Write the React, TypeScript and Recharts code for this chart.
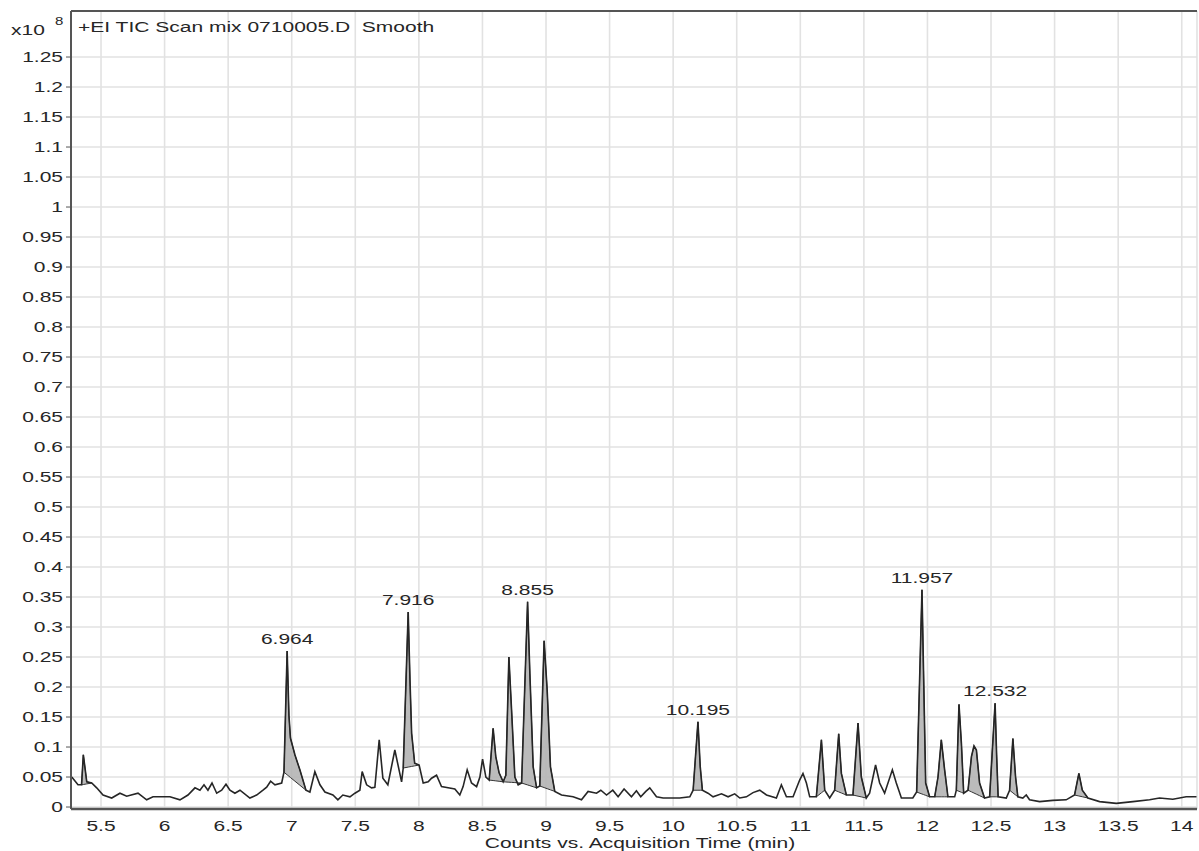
import React from 'react';
import {
  ComposedChart,
  Line,
  Area,
  XAxis,
  YAxis,
  CartesianGrid,
  ReferenceLine,
  ReferenceDot,
} from 'recharts';

// ---------- data ----------
const TIMES = [
  5.27, 5.319, 5.347, 5.361, 5.388, 5.427, 5.466, 5.516, 5.584, 5.649,
  5.702, 5.791, 5.859, 5.909, 6.042, 6.121, 6.184, 6.239, 6.278, 6.31,
  6.341, 6.373, 6.41, 6.449, 6.483, 6.514, 6.553, 6.593, 6.671, 6.724,
  6.774, 6.803, 6.834, 6.868, 6.921, 6.939, 6.964, 6.978, 6.99, 7.025,
  7.064, 7.112, 7.143, 7.182, 7.222, 7.261, 7.324, 7.363, 7.402, 7.458,
  7.497, 7.536, 7.554, 7.589, 7.628, 7.654, 7.688, 7.717, 7.756, 7.811,
  7.864, 7.877, 7.916, 7.93, 7.943, 7.967, 8.002, 8.034, 8.073, 8.1,
  8.139, 8.178, 8.23, 8.283, 8.322, 8.348, 8.38, 8.414, 8.454, 8.48,
  8.501, 8.527, 8.553, 8.584, 8.605, 8.631, 8.663, 8.684, 8.708, 8.729,
  8.755, 8.781, 8.808, 8.855, 8.873, 8.899, 8.926, 8.951, 8.985, 9.009,
  9.035, 9.069, 9.122, 9.213, 9.279, 9.331, 9.397, 9.431, 9.476, 9.525,
  9.567, 9.614, 9.672, 9.711, 9.745, 9.785, 9.816, 9.869, 9.921, 10.052,
  10.131, 10.157, 10.195, 10.213, 10.23, 10.274, 10.314, 10.38, 10.432, 10.484,
  10.524, 10.576, 10.628, 10.681, 10.734, 10.812, 10.851, 10.891, 10.943, 10.995,
  11.021, 11.048, 11.074, 11.126, 11.166, 11.192, 11.231, 11.27, 11.302, 11.323,
  11.362, 11.414, 11.454, 11.48, 11.519, 11.545, 11.592, 11.624, 11.663, 11.724,
  11.755, 11.795, 11.885, 11.915, 11.957, 11.969, 11.986, 12.017, 12.057, 12.083,
  12.109, 12.135, 12.161, 12.214, 12.227, 12.248, 12.267, 12.285, 12.319, 12.346,
  12.366, 12.385, 12.41, 12.449, 12.489, 12.532, 12.544, 12.556, 12.62, 12.646,
  12.672, 12.693, 12.711, 12.75, 12.777, 12.803, 12.882, 12.986, 13.091, 13.157,
  13.191, 13.218, 13.262, 13.354, 13.485, 13.616, 13.747, 13.825, 13.93, 14.035,
  14.116,
];

const COUNTS = [
  0.05, 0.037, 0.037, 0.087, 0.042, 0.04, 0.032, 0.02, 0.015, 0.023,
  0.018, 0.023, 0.012, 0.017, 0.017, 0.012, 0.02, 0.032, 0.028, 0.037,
  0.028, 0.04, 0.023, 0.028, 0.038, 0.028, 0.023, 0.028, 0.015, 0.02,
  0.028, 0.033, 0.043, 0.037, 0.04, 0.058, 0.26, 0.153, 0.115, 0.087,
  0.062, 0.028, 0.025, 0.059, 0.037, 0.025, 0.02, 0.012, 0.02, 0.017,
  0.023, 0.028, 0.059, 0.037, 0.032, 0.033, 0.112, 0.048, 0.037, 0.095,
  0.042, 0.065, 0.325, 0.212, 0.123, 0.073, 0.07, 0.04, 0.042, 0.048,
  0.053, 0.034, 0.032, 0.03, 0.02, 0.034, 0.062, 0.04, 0.034, 0.05,
  0.08, 0.05, 0.045, 0.131, 0.084, 0.057, 0.042, 0.053, 0.25, 0.162,
  0.05, 0.037, 0.04, 0.342, 0.223, 0.067, 0.032, 0.035, 0.277, 0.195,
  0.067, 0.026, 0.02, 0.017, 0.012, 0.026, 0.023, 0.028, 0.02, 0.028,
  0.017, 0.03, 0.017, 0.027, 0.017, 0.026, 0.032, 0.017, 0.015, 0.015,
  0.017, 0.028, 0.142, 0.067, 0.028, 0.023, 0.017, 0.022, 0.017, 0.022,
  0.015, 0.017, 0.024, 0.028, 0.02, 0.015, 0.037, 0.017, 0.017, 0.045,
  0.056, 0.04, 0.017, 0.017, 0.112, 0.028, 0.015, 0.028, 0.122, 0.056,
  0.02, 0.02, 0.14, 0.05, 0.015, 0.023, 0.07, 0.04, 0.023, 0.062,
  0.04, 0.015, 0.015, 0.025, 0.362, 0.228, 0.04, 0.017, 0.017, 0.05,
  0.112, 0.062, 0.017, 0.017, 0.028, 0.171, 0.106, 0.023, 0.028, 0.084,
  0.102, 0.095, 0.04, 0.015, 0.017, 0.173, 0.087, 0.017, 0.015, 0.028,
  0.114, 0.05, 0.017, 0.015, 0.02, 0.012, 0.009, 0.011, 0.012, 0.02,
  0.056, 0.028, 0.015, 0.009, 0.006, 0.009, 0.012, 0.015, 0.013, 0.017,
  0.017,
];

// integrated peaks: start / end times of each shaded region
const PEAK_START = [
  5.347, 6.939, 7.877, 8.553, 8.663, 8.808, 8.951, 10.157, 11.126,
  11.27, 11.414, 11.915, 12.057, 12.227, 12.319, 12.489, 12.646, 13.157,
];
const PEAK_END = [
  5.427, 7.112, 8.002, 8.663, 8.808, 8.926, 9.069, 10.23, 11.192,
  11.362, 11.519, 12.017, 12.161, 12.285, 12.449, 12.556, 12.711, 13.262,
];

// labelled peak apexes
const LABEL_TIMES = [6.964, 7.916, 8.855, 10.195, 11.957, 12.532];
const LABEL_COUNTS = [0.26, 0.325, 0.342, 0.142, 0.362, 0.173];
const LABEL_TEXTS = ['6.964', '7.916', '8.855', '10.195', '11.957', '12.532'];

const X_TICKS = [5.5, 6, 6.5, 7, 7.5, 8, 8.5, 9, 9.5, 10, 10.5, 11, 11.5, 12, 12.5, 13, 13.5, 14];
const Y_TICKS = [
  0, 0.05, 0.1, 0.15, 0.2, 0.25, 0.3, 0.35, 0.4, 0.45, 0.5, 0.55, 0.6, 0.65,
  0.7, 0.75, 0.8, 0.85, 0.9, 0.95, 1, 1.05, 1.1, 1.15, 1.2, 1.25,
];

const X_MIN = 5.264;
const X_MAX = 14.12;
const Y_MIN = -0.0033;
const Y_MAX = 1.3267;

const TITLE = '+EI TIC Scan mix 0710005.D  Smooth';
const X_TITLE = 'Counts vs. Acquisition Time (min)';

// ---------- derived tables ----------
const MAIN = TIMES.map((t, i) => ({ t, v: COUNTS[i] }));

const PEAK_AREAS = PEAK_START.map((s, k) => {
  const e = PEAK_END[k];
  const i0 = TIMES.indexOf(s);
  const i1 = TIMES.indexOf(e);
  const b0 = COUNTS[i0];
  const b1 = COUNTS[i1];
  return MAIN.slice(i0, i1 + 1).map((p) => ({
    t: p.t,
    range: [b0 + ((b1 - b0) * (p.t - s)) / (e - s), p.v],
  }));
});

// ---------- text helpers ----------
const FONT = '"Liberation Sans", Arial, sans-serif';
const SX = 1.5;
const INK = '#262626';

const SText = ({ x, y, anchor, size = 14, children }: any) => (
  <text
    x={0}
    y={0}
    transform={`translate(${x} ${y}) scale(${SX} 1)`}
    textAnchor={anchor}
    dy="0.35em"
    fontFamily={FONT}
    fontSize={size}
    fill={INK}
  >
    {children}
  </text>
);

const XTick = (props: any) => (
  <SText x={props.x} y={props.y + 17} anchor="middle">
    {String(props.payload.value)}
  </SText>
);

const YTick = (props: any) => (
  <SText x={props.x} y={props.y} anchor="end">
    {String(props.payload.value)}
  </SText>
);

const PeakLabel = (props: any) => {
  const vb = props.viewBox || {};
  const cx = (vb.x || 0) + (vb.width || 0) / 2;
  const cy = (vb.y || 0) + (vb.height || 0) / 2;
  return (
    <SText x={cx} y={cy - 12} anchor="middle">
      {props.text}
    </SText>
  );
};

const htmlText = (size: number): React.CSSProperties => ({
  position: 'absolute',
  fontFamily: FONT,
  fontSize: size,
  lineHeight: `${size}px`,
  color: INK,
  whiteSpace: 'pre',
  transformOrigin: 'left top',
});

export default function App() {
  return (
    <div
      style={{
        position: 'absolute',
        left: 0,
        top: 0,
        width: 1199,
        height: 851,
        background: '#fff',
        overflow: 'hidden',
      }}
    >
      <ComposedChart
        width={1199}
        height={851}
        data={MAIN}
        margin={{ top: 11, right: 2, bottom: 0, left: 0 }}
      >
        <CartesianGrid stroke="#e2e2e2" strokeWidth={1.6} />
        <XAxis
          dataKey="t"
          type="number"
          domain={[X_MIN, X_MAX]}
          ticks={X_TICKS}
          allowDataOverflow
          interval={0}
          tickLine={false}
          tickSize={0}
          tickMargin={0}
          height={42}
          axisLine={{ stroke: '#555', strokeWidth: 2.5 }}
          tick={<XTick />}
        />
        <YAxis
          type="number"
          domain={[Y_MIN, Y_MAX]}
          ticks={Y_TICKS}
          allowDataOverflow
          interval={0}
          width={71}
          tickSize={5}
          tickMargin={3}
          tickLine={{ stroke: '#555' }}
          axisLine={{ stroke: '#555', strokeWidth: 2 }}
          tick={<YTick />}
        />
        <ReferenceLine y={Y_MAX} stroke="#555" strokeWidth={2} />
        {PEAK_AREAS.map((d, k) => (
          <Area
            key={`pk${k}`}
            data={d}
            dataKey="range"
            type="linear"
            stroke="#333"
            strokeWidth={1}
            fill="#b4b4b4"
            fillOpacity={0.9}
            dot={false}
            activeDot={false}
            isAnimationActive={false}
          />
        ))}
        <Line
          dataKey="v"
          type="linear"
          stroke="#262626"
          strokeWidth={1.6}
          dot={false}
          activeDot={false}
          isAnimationActive={false}
        />
        {LABEL_TIMES.map((t, k) => (
          <ReferenceDot
            key={`lb${k}`}
            x={t}
            y={LABEL_COUNTS[k]}
            r={0}
            fill="none"
            stroke="none"
            label={<PeakLabel text={LABEL_TEXTS[k]} />}
          />
        ))}
      </ComposedChart>

      <div style={{ ...htmlText(14), left: 78, top: 20, transform: `scaleX(${SX})` }}>{TITLE}</div>
      <div style={{ ...htmlText(14), left: 11, top: 23, transform: `scaleX(${SX})` }}>x10</div>
      <div style={{ ...htmlText(10), left: 55, top: 17, transform: `scaleX(${SX})` }}>8</div>
      <div
        style={{
          ...htmlText(14),
          left: 640,
          top: 836,
          transform: `scaleX(${SX}) translateX(-50%)`,
        }}
      >
        {X_TITLE}
      </div>
    </div>
  );
}
